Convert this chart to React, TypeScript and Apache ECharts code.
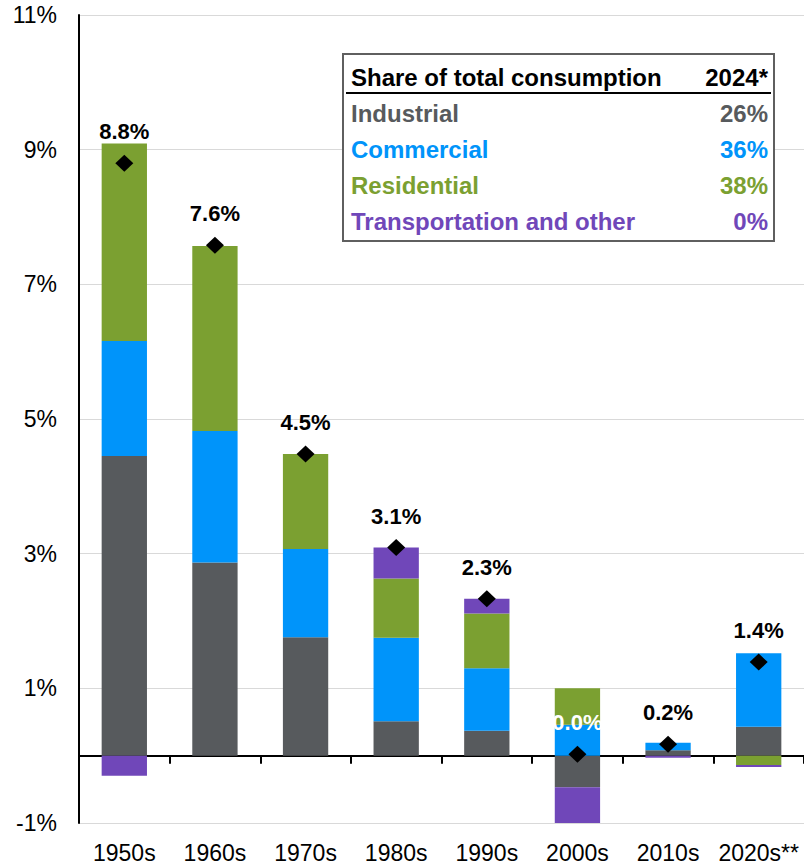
import React, { useEffect, useRef } from "react";
import * as echarts from "echarts";

const categories = ["1950s", "1960s", "1970s", "1980s", "1990s", "2000s", "2010s", "2020s**"];
const industrial = [4.45, 2.87, 1.76, 0.51, 0.37, -0.47, 0.08, 0.43];
const commercial = [1.71, 1.95, 1.31, 1.24, 0.93, 0.46, 0.11, 1.09];
const residential = [2.93, 2.75, 1.41, 0.88, 0.81, 0.54, 0.0, -0.14];
const transportation = [-0.3, 0, 0, 0.46, 0.22, -0.54, -0.03, -0.03];
const totals = [8.8, 7.58, 4.48, 3.09, 2.33, 0.02, 0.17, 1.39];

const legendNames = ["Industrial", "Commercial", "Residential", "Transportation and other"];
const legendShares = ["26%", "36%", "38%", "0%"];
const legendHeader = ["Share of total consumption", "2024*"];

const COLORS = ["#575a5d", "#0094fa", "#7ba031", "#7047b9"];
const FONT = "'Liberation Sans', Arial, sans-serif";

export default function App() {
  const ref = useRef<HTMLDivElement>(null);
  useEffect(() => {
    if (!ref.current) return;
    const chart = echarts.init(ref.current, undefined, { renderer: "svg" });
    const seriesData = [industrial, commercial, residential, transportation];
    const barSeries = seriesData.map((d, i) => ({
      name: legendNames[i],
      type: "bar",
      stack: "total",
      stackStrategy: "samesign",
      barWidth: "50%",
      xAxisIndex: 0,
      data: d,
      itemStyle: { color: COLORS[i] },
      emphasis: { disabled: true },
    }));
    const rowY = [113, 149, 185, 221];
    const graphic: any[] = [
      {
        type: "rect",
        shape: { x: 343, y: 54, width: 431, height: 187 },
        style: { fill: "#fff", stroke: "#5f5f5f", lineWidth: 2 },
        z: 10,
      },
      {
        type: "line",
        shape: { x1: 346, y1: 93, x2: 771, y2: 93 },
        style: { stroke: "#000", lineWidth: 2 },
        z: 11,
      },
      {
        type: "text",
        x: 351,
        y: 77,
        style: { text: legendHeader[0], font: `bold 24px ${FONT}`, fill: "#000", textVerticalAlign: "middle", textAlign: "left" },
        z: 11,
      },
      {
        type: "text",
        x: 768,
        y: 77,
        style: { text: legendHeader[1], font: `bold 24px ${FONT}`, fill: "#000", textVerticalAlign: "middle", textAlign: "right" },
        z: 11,
      },
    ];
    legendNames.forEach((n, i) => {
      graphic.push({
        type: "text",
        x: 351,
        y: rowY[i],
        style: { text: n, font: `bold 24px ${FONT}`, fill: COLORS[i], textVerticalAlign: "middle", textAlign: "left" },
        z: 11,
      });
      graphic.push({
        type: "text",
        x: 768,
        y: rowY[i],
        style: { text: legendShares[i], font: `bold 24px ${FONT}`, fill: COLORS[i], textVerticalAlign: "middle", textAlign: "right" },
        z: 11,
      });
    });

    chart.setOption({
      animation: false,
      grid: { left: 79, right: -5, top: 15, bottom: 43, containLabel: false },
      xAxis: [
        {
          type: "category",
          data: categories,
          position: "bottom",
          axisLine: { show: true, onZero: true, lineStyle: { color: "#000", width: 2 } },
          axisTick: { show: true, length: 8, lineStyle: { color: "#000", width: 2 } },
          axisLabel: { show: false },
          splitLine: { show: false },
        },
        {
          type: "category",
          data: categories,
          position: "bottom",
          axisLine: { show: false, onZero: false },
          axisTick: { show: false },
          axisLabel: { show: true, margin: 18, fontSize: 23, fontFamily: FONT, color: "#000", interval: 0 },
          splitLine: { show: false },
        },
      ],
      yAxis: {
        type: "value",
        min: -1,
        max: 11,
        interval: 2,
        axisLine: { show: true, lineStyle: { color: "#000", width: 2 } },
        axisTick: { show: false },
        axisLabel: {
          margin: 22,
          fontSize: 23,
          fontFamily: FONT,
          color: "#000",
          formatter: (v: number) => `${Math.round(v)}%`,
        },
        splitLine: { show: true, lineStyle: { color: "#d9d9d9", width: 1 } },
      },
      series: [
        ...barSeries,
        {
          name: "Total",
          type: "scatter",
          xAxisIndex: 0,
          symbol: "diamond",
          symbolSize: [18, 17],
          itemStyle: { color: "#000", opacity: 1 },
          z: 5,
          data: totals.map((v, i) => ({
            value: v,
            label: i === 5 ? { color: "#fff" } : undefined,
          })),
          label: {
            show: true,
            position: "top",
            distance: 12,
            fontSize: 22,
            fontWeight: "bold",
            fontFamily: FONT,
            color: "#000",
            formatter: (p: any) => `${Number(p.value).toFixed(1)}%`,
          },
          emphasis: { disabled: true },
        },
      ],
      graphic,
    });
    return () => chart.dispose();
  }, []);
  return <div ref={ref} style={{ position: "fixed", left: 0, top: 0, width: 804, height: 866, background: "#fff" }} />;
}
